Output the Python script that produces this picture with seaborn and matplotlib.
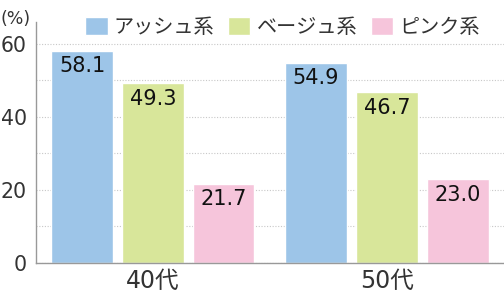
import matplotlib
matplotlib.use("Agg")
import matplotlib.pyplot as plt
import seaborn as sns
import pandas as pd
from matplotlib.ticker import FixedLocator

categories = ["40代", "50代"]
series = ["アッシュ系", "ベージュ系", "ピンク系"]
ash = [58.1, 54.9]
beige = [49.3, 46.7]
pink = [21.7, 23.0]
colors = ["#9DC5E8", "#D8E69A", "#F6C5DB"]

sns.set_theme(style="white")
plt.rcParams["font.family"] = ["DejaVu Sans", "Noto Sans CJK JP"]

rows = []
for vals, s in zip([ash, beige, pink], series):
    for c, v in zip(categories, vals):
        rows.append({"cat": c, "series": s, "value": v})
df = pd.DataFrame(rows)

fig = plt.figure(figsize=(5.04, 2.93), dpi=100)
ax = fig.add_axes([0.0714, 0.1024, 0.9286, 0.8225])
sns.barplot(data=df, x="cat", y="value", hue="series", palette=colors,
            width=0.91, gap=0.14, ax=ax, saturation=1, legend=True, zorder=2)

ax.set_ylim(0, 66)
ax.set_xlim(-0.5, 1.5)
ax.yaxis.set_major_locator(FixedLocator([0, 20, 40, 60]))
ax.yaxis.set_minor_locator(FixedLocator([10, 30, 50]))
ax.grid(True, which="both", axis="y", color="#C8C8C8", linestyle=(0, (1, 1.5)), linewidth=0.8, zorder=0)
ax.set_axisbelow(True)
ax.set_xlabel("")
ax.set_ylabel("")
for sp in ["top", "right"]:
    ax.spines[sp].set_visible(False)
for sp in ["left", "bottom"]:
    ax.spines[sp].set_color("#999999")
    ax.spines[sp].set_linewidth(1.0)
ax.tick_params(axis="y", which="both", length=0, labelsize=14.8, colors="#333333", pad=6.5)
ax.tick_params(axis="x", which="major", length=0, labelsize=17, colors="#333333", pad=4)
ax.xaxis.set_minor_locator(FixedLocator([0.5]))
ax.tick_params(axis="x", which="minor", length=6, color="#999999", width=1, direction="inout")

for cont in ax.containers:
    for bar in cont:
        h = bar.get_height()
        ax.annotate(f"{h:.1f}", (bar.get_x() + bar.get_width() / 2, h),
                    xytext=(0, -4), textcoords="offset points", ha="center", va="top",
                    fontsize=15, color="#111111")

leg = ax.legend(loc="center", bbox_to_anchor=(0.527, 0.979), ncol=3, frameon=False,
                fontsize=14.5, handlelength=1.1, handleheight=1.0, handletextpad=0.3,
                columnspacing=0.7, labelcolor="#333333", borderpad=0)

fig.text(0.0, 0.935, "(%)", fontsize=12.5, color="#333333", va="center", ha="left")

fig.savefig("out.png", dpi=100)
